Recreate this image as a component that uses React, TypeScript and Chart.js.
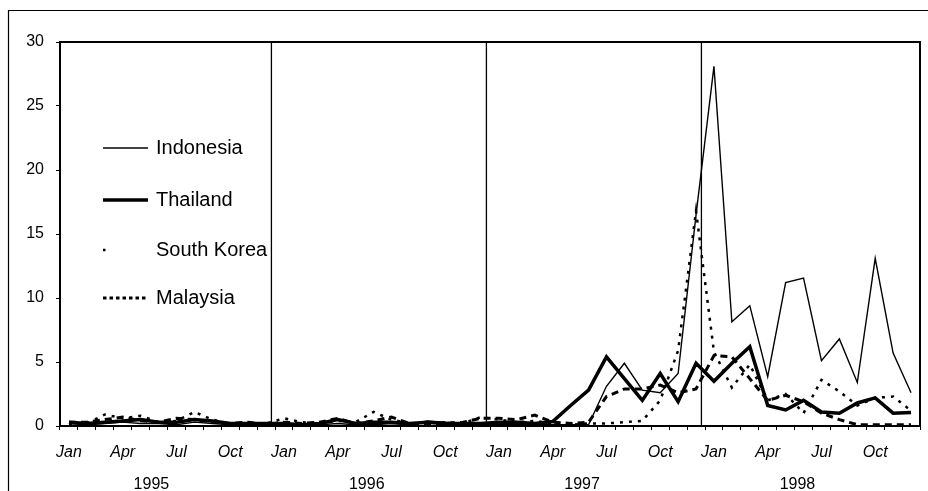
import React, { useEffect, useRef } from 'react';
import { Chart, registerables } from 'chart.js';

Chart.register(...registerables);

const monthNames = ['Jan', 'Feb', 'Mar', 'Apr', 'May', 'Jun', 'Jul', 'Aug', 'Sep', 'Oct', 'Nov', 'Dec'];
const years = ['1995', '1996', '1997', '1998'];
const shownMonths = ['Jan', 'Apr', 'Jul', 'Oct'];
const yTickValues = [0, 5, 10, 15, 20, 25, 30];

// Monthly values, Jan 1995 .. Dec 1998
const indonesia = [
  0.2, 0.1, 0.2, 0.3, 0.2, 0.2, 0.1, 0.3, 0.2, 0.1, 0.1, 0.1,
  0.1, 0.1, 0.1, 0.2, 0.1, 0.1, 0.2, 0.1, 0.4, 0.3, 0.1, 0.1,
  0.1, 0.1, 0.1, 0.1, 0.1, 0.1, 3.1, 4.9, 2.8, 2.6, 4.1, 16.5,
  28.1, 8.15, 9.4, 3.85, 11.2, 11.55, 5.1, 6.8, 3.4, 13.1, 5.7, 2.6,
];
const thailand = [
  0.3, 0.2, 0.3, 0.4, 0.5, 0.3, 0.3, 0.5, 0.4, 0.2, 0.2, 0.2,
  0.2, 0.1, 0.2, 0.5, 0.2, 0.3, 0.3, 0.2, 0.3, 0.2, 0.2, 0.2,
  0.3, 0.3, 0.2, 0.35, 1.6, 2.8, 5.4, 3.7, 2.0, 4.1, 1.9, 4.9,
  3.5, 4.9, 6.2, 1.6, 1.25, 2.0, 1.1, 1.0, 1.8, 2.2, 1.0, 1.05,
];
const southKorea = [
  0.1, 0.2, 0.9, 0.6, 0.8, 0.3, 0.4, 1.1, 0.5, 0.2, 0.2, 0.2,
  0.6, 0.3, 0.2, 0.4, 0.3, 1.1, 0.5, 0.2, 0.2, 0.3, 0.2, 0.7,
  0.5, 0.3, 0.4, 0.2, 0.1, 0.2, 0.2, 0.3, 0.4, 2.0, 5.9, 16.8,
  5.8, 3.0, 4.8, 2.0, 2.5, 1.0, 3.6, 2.7, 1.6, 2.2, 2.3, 1.2,
];
const malaysia = [
  0.3, 0.3, 0.5, 0.7, 0.4, 0.3, 0.6, 0.5, 0.3, 0.2, 0.3, 0.1,
  0.3, 0.2, 0.3, 0.6, 0.2, 0.4, 0.7, 0.2, 0.1, 0.2, 0.3, 0.6,
  0.6, 0.5, 0.85, 0.3, 0.2, 0.3, 2.3, 2.9, 2.9, 3.2, 2.6, 2.9,
  5.5, 5.4, 3.7, 2.0, 2.4, 1.9, 1.0, 0.5, 0.1, 0.1, 0.1, 0.1,
];

const labels: string[] = [];
years.forEach(() => monthNames.forEach((m) => labels.push(m)));

const FONT = '"Liberation Sans", Arial, sans-serif';

const decorPlugin = {
  id: 'decor',
  beforeDatasetsDraw(chart: any) {
    const { ctx, chartArea, scales } = chart;
    const x = scales.x;
    ctx.save();
    ctx.strokeStyle = '#000';
    ctx.lineWidth = 1.3;
    for (let k = 1; k < years.length; k++) {
      const px = x.getPixelForValue(12 * k - 0.7);
      ctx.beginPath();
      ctx.moveTo(px, chartArea.top);
      ctx.lineTo(px, chartArea.bottom);
      ctx.stroke();
    }
    ctx.restore();
  },
  afterDraw(chart: any) {
    const { ctx, chartArea, scales } = chart;
    const x = scales.x;
    ctx.save();
    // plot frame
    ctx.strokeStyle = '#000';
    ctx.lineWidth = 2;
    ctx.strokeRect(chartArea.left, chartArea.top, chartArea.right - chartArea.left, chartArea.bottom - chartArea.top);
    // outer frame
    ctx.lineWidth = 1.2;
    ctx.beginPath();
    ctx.moveTo(8.5, 491);
    ctx.lineTo(8.5, 10.5);
    ctx.lineTo(928, 10.5);
    ctx.stroke();
    // year labels
    ctx.fillStyle = '#000';
    ctx.font = `16px ${FONT}`;
    ctx.textAlign = 'center';
    ctx.textBaseline = 'middle';
    years.forEach((yr, k) => {
      const px = x.getPixelForValue(4.6 + 12.02 * k);
      ctx.fillText(yr, px, 485);
    });
    // legend
    const items = [
      { label: 'Indonesia', y: 148, width: 1.4, dash: [] as number[] },
      { label: 'Thailand', y: 200, width: 3.5, dash: [] as number[] },
      { label: 'South Korea', y: 250, width: 2.5, dash: [2.5, 60] },
      { label: 'Malaysia', y: 298, width: 3, dash: [3.5, 3] },
    ];
    ctx.font = `20px ${FONT}`;
    ctx.textAlign = 'left';
    items.forEach((it) => {
      ctx.beginPath();
      ctx.setLineDash(it.dash);
      ctx.lineWidth = it.width;
      ctx.moveTo(103, it.y);
      ctx.lineTo(148, it.y);
      ctx.stroke();
      ctx.setLineDash([]);
      ctx.fillText(it.label, 156, it.y);
    });
    ctx.restore();
  },
};

export default function App() {
  const ref = useRef<HTMLCanvasElement | null>(null);
  useEffect(() => {
    if (!ref.current) return;
    const chart = new Chart(ref.current, {
      type: 'line',
      data: {
        labels,
        datasets: [
          { label: 'Indonesia', data: indonesia, borderColor: '#000', borderWidth: 1.4, pointRadius: 0, fill: false },
          { label: 'Thailand', data: thailand, borderColor: '#000', borderWidth: 3.5, pointRadius: 0, fill: false },
          { label: 'South Korea', data: southKorea, borderColor: '#000', borderWidth: 2.5, borderDash: [3, 6], pointRadius: 0, fill: false },
          { label: 'Malaysia', data: malaysia, borderColor: '#000', borderWidth: 3, borderDash: [7, 5], pointRadius: 0, fill: false },
        ],
      },
      options: {
        animation: false,
        responsive: false,
        maintainAspectRatio: false,
        layout: { padding: { top: 42, right: 8, left: 0, bottom: 0 } },
        plugins: { legend: { display: false }, tooltip: { enabled: false } },
        elements: { line: { tension: 0 } },
        scales: {
          x: {
            type: 'category',
            offset: true,
            grid: { display: true, drawOnChartArea: false, drawTicks: true, tickLength: 4, color: '#000', offset: true },
            border: { display: true, color: '#000', width: 2 },
            ticks: {
              autoSkip: false,
              maxRotation: 0,
              padding: 13,
              color: '#000',
              font: { family: FONT, size: 16, style: 'italic' },
              callback: (_v: any, i: number) => (shownMonths.includes(labels[i]) ? labels[i] : ''),
            },
            afterFit: (s: any) => {
              s.height = 65;
            },
          },
          y: {
            min: 0,
            max: 30,
            afterBuildTicks: (s: any) => {
              s.ticks = yTickValues.map((v) => ({ value: v }));
            },
            grid: { display: true, drawOnChartArea: false, drawTicks: true, tickLength: 4, color: '#000' },
            border: { display: true, color: '#000', width: 2 },
            ticks: { padding: 12, color: '#000', font: { family: FONT, size: 16 } },
            afterFit: (s: any) => {
              s.width = 60;
            },
          },
        },
      },
      plugins: [decorPlugin],
    });
    return () => chart.destroy();
  }, []);
  return (
    <div style={{ position: 'absolute', left: 0, top: 0, width: 928, height: 491, background: '#fff' }}>
      <canvas ref={ref} width={928} height={491} style={{ display: 'block' }} />
    </div>
  );
}
